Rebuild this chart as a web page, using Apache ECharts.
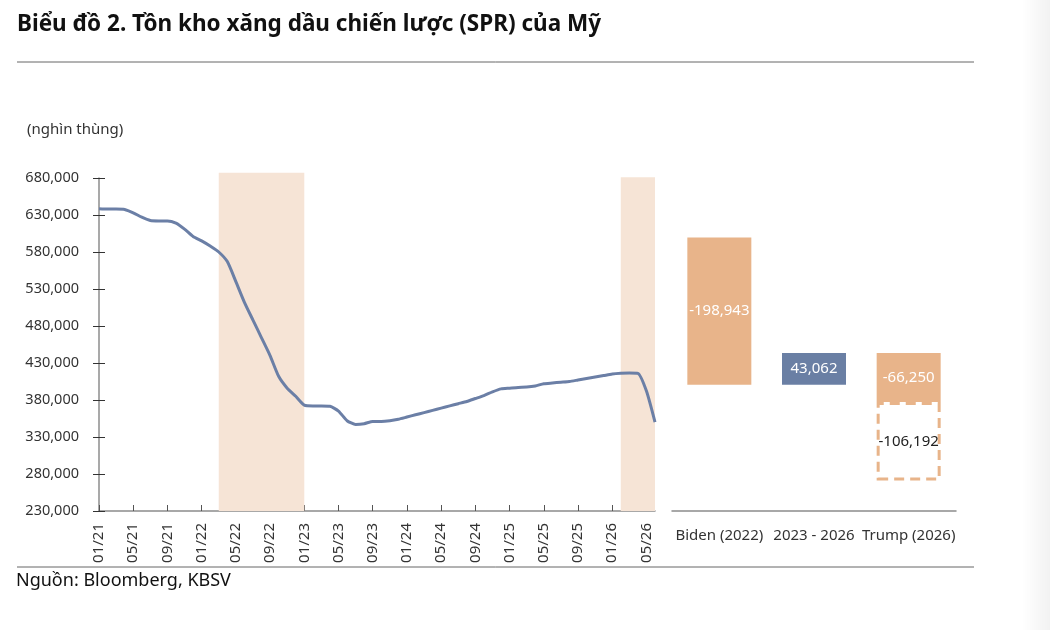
<!DOCTYPE html>
<html>
<head>
<meta charset="utf-8">
<script src="https://cdn.jsdelivr.net/npm/echarts@6/dist/echarts.min.js"></script>
<style>
  html, body { margin: 0; padding: 0; background: #fff; }
  #chart { width: 1050px; height: 630px; }
</style>
</head>
<body>
<div id="chart"></div>
<script>
// tồn kho SPR theo tháng, 01/21 -> 06/26 (nghìn thùng)
const sprValues = [
  638500, 638000, 638000, 637500, 633000, 627000, 622500, 622000, 622000, 619000, 611000, 601000,
  595000, 588000, 580000, 567000, 540000, 512000, 488000, 464000, 440000, 412000, 396000, 385000,
  373000, 372000, 372000, 371500, 365000, 352000, 347000, 348000, 351000, 351000, 352000, 354000,
  357000, 360000, 363000, 366000, 369000, 372000, 375000, 378000, 382000, 386000, 391000, 395000,
  396000, 397000, 397500, 399000, 402000, 403000, 404000, 405000, 407000, 409000, 411000, 413000,
  415000, 416000, 416500, 416000, 392000, 350000
]
const startYear = 21
const months = []
for (let i = 0; i < sprValues.length; i++) {
  const m = (i % 12) + 1
  const y = startYear + Math.floor(i / 12)
  months.push((m < 10 ? '0' + m : '' + m) + '/' + y)
}
// vùng tô nền: từ, đến, đỉnh
const bands = [['03/22', '01/23', 687000], ['02/26', '06/26', 681000]]

// waterfall bên phải
const wfCategories = ['Biden (2022)', '2023 - 2026', 'Trump (2026)']
const wfStart = 599500
const wfChanges = [-198943, 43062, -66250]
const wfProjected = -106192

const orange = '#E8B48A'
const blue = '#6A7FA4'
const lineColor = '#6B7FA6'
const bandColor = '#F6E4D6'
const font = 'Noto Sans'

// tính đáy cho từng cột
let level = wfStart
const wfBase = [], wfSize = [], wfColors = []
wfChanges.forEach(function (c) {
  const next = level + c
  wfBase.push(Math.min(level, next))
  wfSize.push(Math.abs(c))
  wfColors.push(c < 0 ? orange : blue)
  level = next
})
const projBase = ['-', '-', level + wfProjected]
const projSize = ['-', '-', Math.abs(wfProjected)]

const fmt = function (v) {
  return v.toLocaleString('en-US')
}

const chart = echarts.init(document.getElementById('chart'), null, {renderer: 'canvas'})

const yMin = 230000, yMax = 680000, yStep = 50000
const gridLeft = 99, gridRight = 395, gridTop = 178, gridBottom = 119
// lưới phụ cho vùng tô (cao hơn một chút so với 680,000)
const bandTop = 168
const bandMax = yMax + (gridTop - bandTop) * yStep / 37

const yCommon = {
  type: 'value',
  min: yMin,
  max: yMax,
  interval: yStep,
  splitLine: {show: false}
}

chart.setOption({
  animation: false,
  textStyle: {fontFamily: font},
  grid: [
    {left: gridLeft, right: gridRight, top: gridTop, bottom: gridBottom},
    {left: 672, right: 94, top: gridTop, bottom: gridBottom},
    {left: gridLeft, right: gridRight, top: bandTop, bottom: gridBottom}
  ],
  xAxis: [
    {
      type: 'category',
      gridIndex: 0,
      data: months,
      boundaryGap: false,
      axisLine: {lineStyle: {color: '#8c8c8c', width: 1.5}},
      axisTick: {inside: true, length: 6, interval: 3, lineStyle: {color: '#555'}},
      axisLabel: {interval: 3, rotate: 90, fontSize: 15, color: '#333', margin: 12, fontFamily: font}
    },
    {
      type: 'category',
      gridIndex: 1,
      data: wfCategories,
      axisLine: {lineStyle: {color: '#8c8c8c', width: 1.5}},
      axisTick: {inside: true, length: 6, lineStyle: {color: '#555'}},
      axisLabel: {interval: 0, fontSize: 15, color: '#333', margin: 17, fontFamily: font}
    },
    {
      type: 'category',
      gridIndex: 2,
      data: months,
      boundaryGap: false,
      show: false
    }
  ],
  yAxis: [
    Object.assign({}, yCommon, {
      gridIndex: 0,
      position: 'left',
      axisLine: {show: true, lineStyle: {color: '#8c8c8c', width: 1.5}},
      axisTick: {show: true, length: 6, lineStyle: {color: '#333'}},
      axisLabel: {fontSize: 14.5, color: '#333', margin: 20, fontFamily: font, formatter: fmt}
    }),
    // vạch chia phía trong (trục phải dời sang trái)
    Object.assign({}, yCommon, {
      gridIndex: 0,
      position: 'right',
      offset: -(1050 - gridLeft - gridRight),
      axisLine: {show: false},
      axisTick: {show: true, length: 6, lineStyle: {color: '#333'}},
      axisLabel: {show: false}
    }),
    Object.assign({}, yCommon, {
      gridIndex: 1,
      show: false
    }),
    {
      type: 'value',
      gridIndex: 2,
      min: yMin,
      max: bandMax,
      show: false
    }
  ],
  graphic: [
    {type: 'text', left: 17, top: 13, style: {text: 'Biểu đồ 2. Tồn kho xăng dầu chiến lược (SPR) của Mỹ', font: 'bold 22.5px "Noto Sans"', fill: '#111'}},
    {type: 'line', shape: {x1: 17, y1: 62, x2: 974, y2: 62}, style: {stroke: '#666', lineWidth: 1}},
    {type: 'text', left: 27, top: 122, style: {text: '(nghìn thùng)', font: '15px "Noto Sans"', fill: '#333'}},
    {type: 'line', shape: {x1: 17, y1: 567, x2: 974, y2: 567}, style: {stroke: '#666', lineWidth: 1}},
    {type: 'text', left: 16, top: 572, style: {text: 'Nguồn: Bloomberg, KBSV', font: '18px "Noto Sans"', fill: '#111'}},
    {
      type: 'rect', shape: {x: 1022, y: 0, width: 28, height: 630}, silent: true,
      style: {fill: new echarts.graphic.LinearGradient(0, 0, 1, 0, [
        {offset: 0, color: 'rgba(0,0,0,0)'},
        {offset: 1, color: 'rgba(0,0,0,0.05)'}
      ])}
    }
  ],
  series: [
    {
      name: 'bands',
      type: 'line',
      xAxisIndex: 2,
      yAxisIndex: 3,
      data: [],
      silent: true,
      z: 1,
      markArea: {
        silent: true,
        itemStyle: {color: bandColor},
        data: bands.map(function (b) {
          return [{xAxis: b[0], yAxis: b[2]}, {xAxis: b[1], yAxis: yMin}]
        })
      }
    },
    {
      name: 'SPR',
      type: 'line',
      xAxisIndex: 0,
      yAxisIndex: 0,
      data: sprValues,
      showSymbol: false,
      smooth: 0.2,
      lineStyle: {color: lineColor, width: 3},
      z: 3
    },
    {
      type: 'bar',
      xAxisIndex: 1,
      yAxisIndex: 2,
      stack: 'wf',
      barWidth: 64,
      itemStyle: {color: 'transparent'},
      data: wfBase,
      silent: true
    },
    {
      type: 'bar',
      xAxisIndex: 1,
      yAxisIndex: 2,
      stack: 'wf',
      barWidth: 64,
      data: wfSize.map(function (v, i) {
        return {value: v, itemStyle: {color: wfColors[i]}}
      }),
      label: {
        show: true,
        position: 'inside',
        color: '#fff',
        fontSize: 15,
        fontFamily: font,
        formatter: function (p) {
          return fmt(wfChanges[p.dataIndex])
        }
      }
    },
    {
      type: 'bar',
      xAxisIndex: 1,
      yAxisIndex: 2,
      stack: 'proj',
      barWidth: 64,
      barGap: '-100%',
      itemStyle: {color: 'transparent'},
      data: projBase,
      silent: true
    },
    {
      type: 'bar',
      xAxisIndex: 1,
      yAxisIndex: 2,
      stack: 'proj',
      barWidth: 61,
      barGap: '-100%',
      itemStyle: {color: 'rgba(255,255,255,0)', borderColor: orange, borderWidth: 3, borderType: [10, 6]},
      data: projSize,
      label: {
        show: true,
        position: 'inside',
        color: '#222',
        fontSize: 15,
        fontFamily: font,
        formatter: function () {
          return fmt(wfProjected)
        }
      }
    }
  ]
})
</script>
</body>
</html>
